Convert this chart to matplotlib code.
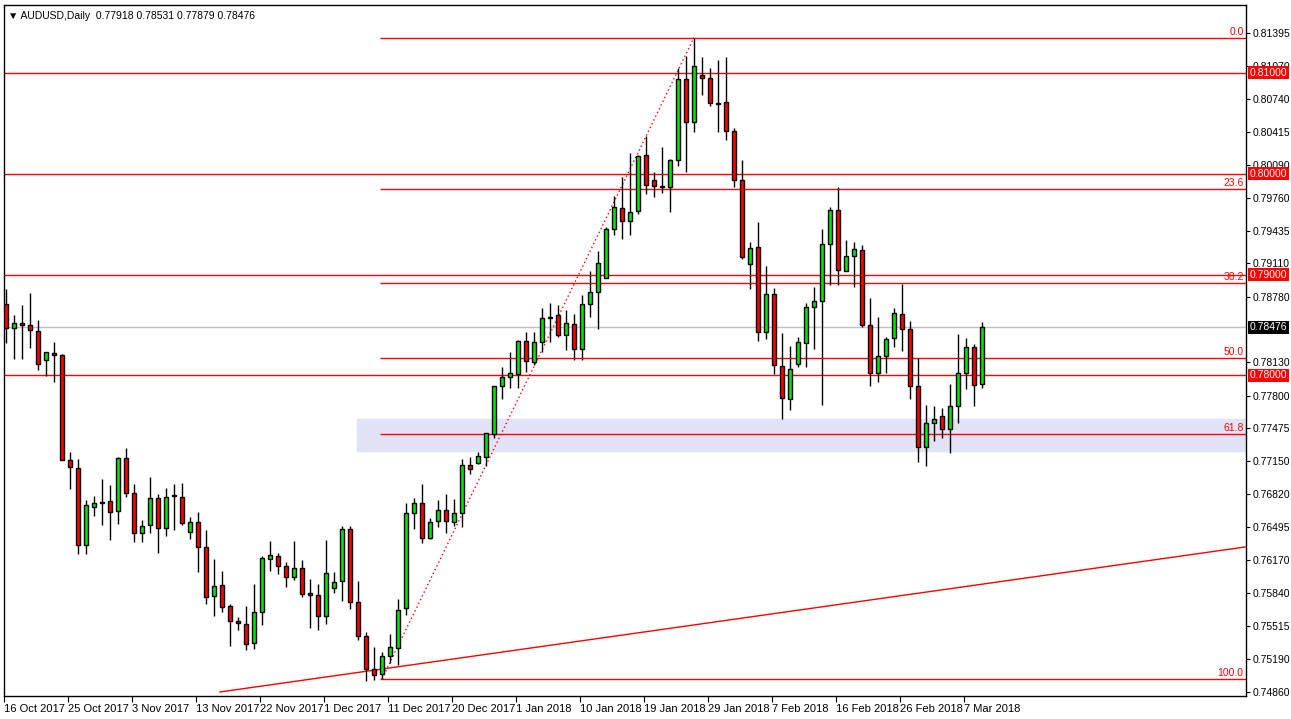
import matplotlib
matplotlib.use("Agg")
import matplotlib.pyplot as plt
import numpy as np

plt.rcParams['font.family'] = ['Liberation Sans', 'DejaVu Sans']

# AUDUSD daily candles (prices * 10000)
opens = [7871,7847,7852,7850,7844,7815,7822,7820,7716,7708,7632,7669,7673,7675,7665,7718,7683,7644,7652,7678,
         7649,7680,7679,7645,7655,7630,7581,7592,7571,7556,7553,7535,7565,7618,7621,7611,7600,7609,7584,7582,
         7561,7589,7596,7648,7575,7542,7509,7504,7522,7530,7569,7663,7673,7639,7656,7666,7655,7663,7711,7713,
         7719,7742,7789,7798,7801,7834,7813,7833,7857,7860,7840,7851,7826,7871,7883,7897,7945,7966,7953,7963,
         8019,7994,7987,7987,8014,8094,8051,8098,8095,8070,8071,8042,7994,7910,7927,7843,7881,7809,7777,7811,
         7832,7868,7874,7930,7964,7903,7918,7924,7850,7802,7819,7837,7861,7846,7789,7729,7753,7760,7747,7770,
         7802,7828,7791.8]
highs = [7886,7860,7870,7882,7855,7823,7833,7821,7724,7717,7676,7680,7697,7691,7719,7728,7692,7657,7699,7682,
         7688,7692,7693,7660,7664,7647,7618,7606,7573,7560,7571,7593,7621,7636,7624,7615,7636,7617,7598,7593,
         7637,7605,7651,7651,7596,7545,7531,7526,7543,7578,7673,7678,7692,7659,7676,7682,7677,7717,7719,7724,
         7743,7789,7808,7823,7835,7843,7843,7867,7872,7870,7865,7861,7880,7903,7923,7947,7978,7997,8021,8019,
         8037,8002,8026,8015,8105,8117,8135,8116,8105,8113,8116,8045,8014,7932,7952,7908,7887,7842,7829,7838,
         7872,7888,7945,7967,7987,7934,7932,7929,7877,7858,7838,7867,7891,7854,7817,7771,7770,7768,7791,7841,
         7837,7831,7853.1]
lows = [7832,7816,7816,7827,7805,7799,7793,7716,7687,7623,7623,7661,7652,7637,7653,7679,7635,7635,7644,7624,
        7641,7647,7652,7638,7605,7573,7561,7565,7532,7547,7528,7529,7552,7606,7603,7590,7597,7580,7549,7547,
        7553,7584,7576,7568,7538,7497,7498,7499,7515,7513,7562,7648,7634,7638,7650,7644,7651,7650,7702,7712,
        7710,7738,7777,7787,7787,7803,7810,7823,7833,7838,7825,7815,7815,7858,7846,7897,7939,7935,7939,7960,
        7980,7977,7981,7962,8008,8002,8041,8078,8067,8041,8033,7987,7915,7886,7834,7836,7801,7757,7766,7808,
        7808,7826,7771,7890,7890,7903,7888,7848,7789,7793,7802,7828,7824,7777,7714,7710,7735,7738,7723,7753,
        7786,7770,7787.9]
closes = [7847,7852,7850,7845,7811,7823,7820,7716,7709,7632,7671,7673,7674,7664,7718,7683,7644,7651,7678,7649,
          7679,7681,7654,7655,7630,7580,7591,7570,7556,7554,7534,7565,7619,7622,7611,7600,7609,7583,7582,7561,
          7604,7595,7648,7575,7542,7509,7503,7522,7531,7567,7663,7673,7639,7655,7666,7656,7663,7711,7707,7720,
          7743,7789,7798,7802,7834,7814,7833,7857,7858,7840,7852,7826,7871,7883,7911,7945,7967,7953,7962,8018,
          7989,7988,7988,8014,8094,8051,8107,8095,8070,8069,8042,7994,7917,7926,7843,7881,7810,7778,7806,7833,
          7868,7874,7930,7964,7904,7918,7925,7850,7802,7819,7836,7862,7846,7789,7729,7753,7757,7747,7770,7802,
          7828,7790,7847.6]

date_labels = ["16 Oct 2017", "25 Oct 2017", "3 Nov 2017", "13 Nov 2017", "22 Nov 2017", "1 Dec 2017",
               "11 Dec 2017", "20 Dec 2017", "1 Jan 2018", "10 Jan 2018", "19 Jan 2018", "29 Jan 2018",
               "7 Feb 2018", "16 Feb 2018", "26 Feb 2018", "7 Mar 2018"]
price_ticks = [0.81395, 0.81070, 0.80740, 0.80415, 0.80090, 0.79760, 0.79435, 0.79110, 0.78780,
               0.78130, 0.77800, 0.77475, 0.77150, 0.76820, 0.76495, 0.76170, 0.75840, 0.75515,
               0.75190, 0.74860]
round_levels = [0.81, 0.80, 0.79, 0.78]
fib_pcts = [0.0, 23.6, 38.2, 50.0, 61.8, 100.0]
fib_start, fib_end = 47, 86          # swing low bar / swing high bar
zone = (0.77250, 0.77567)
zone_start = 43.9
trend_pts = ([26.75, 154.9], [0.74860, 0.76298])
last_price = 0.78476

o = np.array(opens) / 10000
h = np.array(highs) / 10000
l = np.array(lows) / 10000
c = np.array(closes) / 10000
idx = np.arange(len(o))

fig = plt.figure(figsize=(12.91, 7.19), dpi=100)
fig.patch.set_facecolor("white")
ax = fig.add_axes([4/1291, 23/719, 1242/1291, 691/719])
x_left, x_right = -0.25, 155.0
ax.set_xlim(x_left, x_right)
ax.set_ylim(0.74820, 0.81673)

# support zone
ax.axhspan(zone[0], zone[1], xmin=(zone_start - x_left)/(x_right - x_left), color="#e3e3f7", zorder=0)

for lv in round_levels:
    ax.axhline(lv, color="red", lw=1, zorder=1)
ax.axhline(last_price, color="#c0c0c0", lw=1, zorder=1)

# fibonacci
lo, hi = l[fib_start], h[fib_end]
for p in fib_pcts:
    lv = hi - (hi - lo) * p / 100
    ax.hlines(lv, fib_start - 0.3, x_right, color="red", lw=1, zorder=1)
    ax.text(x_right - 0.3, lv + 0.0001, "%.1f" % p, color="red", fontsize=7.5, ha="right", va="bottom")
ax.plot([fib_start, fib_end], [lo, hi], color="red", lw=1, ls=(0, (1, 2)), zorder=1)

ax.plot(trend_pts[0], trend_pts[1], color="red", lw=1, zorder=1)

# candles
up = c >= o
ax.vlines(idx, l, h, color="black", lw=1, zorder=2)
body_lo = np.minimum(o, c)
body_h = np.maximum(np.abs(c - o), 0.00002)
ax.bar(idx, body_h, bottom=body_lo, width=0.62,
       color=np.where(up, "#00e600", "#ff0000"), edgecolor="black", lw=1, zorder=3)

ax.set_xticks(np.arange(len(date_labels)) * 8 - 0.25)
ax.set_xticklabels(date_labels, ha="left", fontsize=8)
ax.tick_params(axis="x", length=4, pad=2)
ax.yaxis.tick_right()
ax.set_yticks(price_ticks)
ax.set_yticklabels(["%.5f" % t for t in price_ticks], fontsize=7.5)
ax.tick_params(axis="y", length=3, pad=2)
for s in ax.spines.values():
    s.set_linewidth(1)

for lv in round_levels:
    ax.text(1.003, lv, "%.5f" % lv, transform=ax.get_yaxis_transform(), color="white", fontsize=7.5,
            va="center", ha="left", bbox=dict(boxstyle="square,pad=0.15", fc="red", ec="none"))
ax.text(1.003, last_price, "%.5f" % last_price, transform=ax.get_yaxis_transform(), color="white",
        fontsize=7.5, va="center", ha="left", bbox=dict(boxstyle="square,pad=0.15", fc="black", ec="none"))

ax.text(0.003, 0.992, "▼ AUDUSD,Daily  %.5f %.5f %.5f %.5f" % (o[-1], h[-1], l[-1], c[-1]),
        transform=ax.transAxes, fontsize=7.5, va="top", ha="left")

fig.savefig("out.png", dpi=100)
